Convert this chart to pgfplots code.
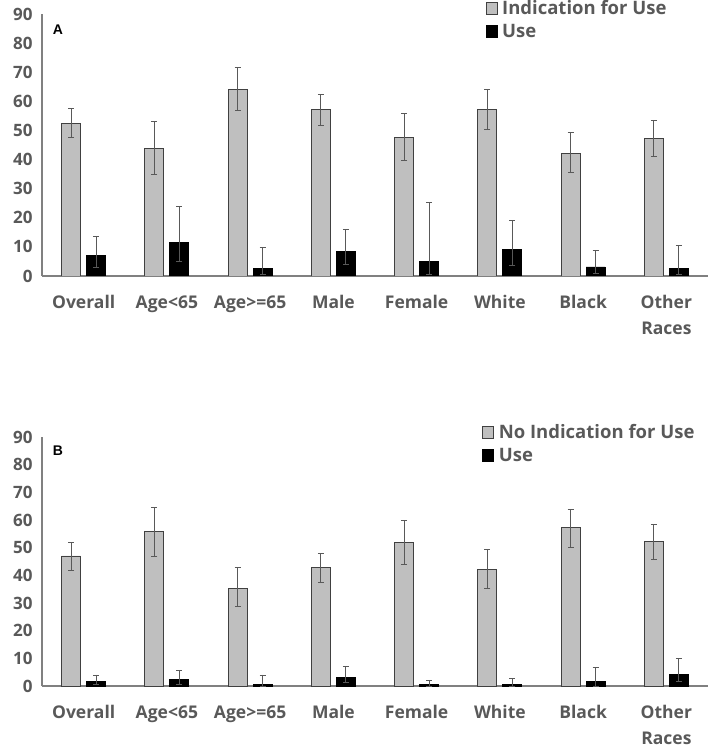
\documentclass[border=0pt]{standalone}
\usepackage{pgfplots}
\pgfplotsset{compat=1.18}
\usepackage{pgfplotstable}
\usepackage{fontspec}
\setmainfont{Open Sans}
\newfontfamily\letterfont{Liberation Sans}
\definecolor{txt}{HTML}{595959}
\definecolor{axgray}{HTML}{808080}
\definecolor{errgray}{HTML}{595959}
\definecolor{barg}{HTML}{BFBFBF}
\definecolor{bord}{HTML}{404040}

% A panel
\pgfplotstableread{
x y ep em
0 52.4 5.1 4.9
1 43.7 9.3 8.8
2 64.2 7.3 7.4
3 57.1 5.3 5.5
4 47.5 8.3 7.9
5 57.1 7.1 6.6
6 42.1 7.1 6.6
7 47.2 6.3 6.0
}\Agrey
\pgfplotstableread{
x y ep em
0 7.0 6.5 4.0
1 11.5 12.3 6.5
2 2.5 7.3 2.0
3 8.4 7.6 4.5
4 4.9 20.3 4.4
5 9.0 10.1 5.2
6 3.1 5.6 2.1
7 2.7 7.7 2.2
}\Ablack
% B panel
\pgfplotstableread{
x y ep em
0 47.0 4.8 5.1
1 55.8 8.9 9.1
2 35.2 7.6 6.6
3 42.7 5.3 5.4
4 51.8 8.0 7.9
5 42.0 7.3 6.6
6 57.4 6.6 7.2
7 52.2 6.1 6.4
}\Bgrey
\pgfplotstableread{
x y ep em
0 1.7 2.3 1.2
1 2.4 3.2 1.8
2 0.4 3.6 0.4
3 3.1 4.1 1.9
4 0.4 1.6 0.4
5 0.4 2.4 0.4
6 1.7 4.9 1.7
7 4.0 5.8 2.3
}\Bblack

\pgfplotsset{
  panel/.style={
    anchor=south west, scale only axis, width=666bp,
    ybar=6bp, bar width=19bp,
    xmin=-0.5, xmax=7.5, ymin=0, ymax=90,
    axis x line=bottom, axis y line=left,
    axis line style={-, draw=axgray, line width=1.3bp},
    xtick={0,...,7},
    xticklabels={Overall,Age<65,Age>=65,Male,Female,White,Black,{Other\\Races}},
    ytick={0,10,...,90},
    major tick length=0pt,
    /pgf/number format/assume math mode=true,
    yticklabel style={font=\fontsize{17bp}{20bp}\selectfont\bfseries, text=txt, anchor=east, xshift=-6bp},
    xticklabel style={font=\fontsize{17.5bp}{25.5bp}\selectfont\bfseries, text=txt, align=center, anchor=north, yshift=-16bp},
    legend style={draw=none, fill=none, inner sep=0pt, row sep=5bp,
      font=\fontsize{18.5bp}{22bp}\selectfont\bfseries, text=txt, anchor=north west,
      nodes={inner sep=1.5bp},
      /tikz/every odd column/.append style={column sep=3bp}},
    legend cell align=left,
    legend image code/.code={\draw[##1] (0bp,-6bp) rectangle (11bp,6bp);},
    error bars/y dir=both, error bars/y explicit,
    error bars/error mark=|,
    error bars/error bar style={draw=errgray, line width=0.8bp},
    error bars/error mark options={draw=errgray, line width=0.8bp, mark size=3bp},
  },
  greybar/.style={fill=barg, draw=bord, line width=0.9bp},
  blackbar/.style={fill=black, draw=black, line width=0.9bp},
}

\begin{document}
\begin{tikzpicture}
\path[use as bounding box] (0,0) rectangle (709bp,747bp);
\begin{axis}[panel, at={(42bp,471bp)}, height=262bp,
  legend style={at={(0.666,1.058)}}]
\addplot[greybar] table[x=x, y=y, y error plus=ep, y error minus=em]{\Agrey};
\addplot[blackbar] table[x=x, y=y, y error plus=ep, y error minus=em]{\Ablack};
\legend{Indication for Use, Use}
\node[text=black, font=\letterfont\fontsize{14bp}{16bp}\selectfont\bfseries] at (rel axis cs:0.024,0.939) {A};
\end{axis}
\begin{axis}[panel, at={(42bp,61bp)}, height=249bp,
  legend style={at={(0.661,1.058)}}]
\addplot[greybar] table[x=x, y=y, y error plus=ep, y error minus=em]{\Bgrey};
\addplot[blackbar] table[x=x, y=y, y error plus=ep, y error minus=em]{\Bblack};
\legend{No Indication for Use, Use}
\node[text=black, font=\letterfont\fontsize{14bp}{16bp}\selectfont\bfseries] at (rel axis cs:0.024,0.944) {B};
\end{axis}
\end{tikzpicture}
\end{document}
